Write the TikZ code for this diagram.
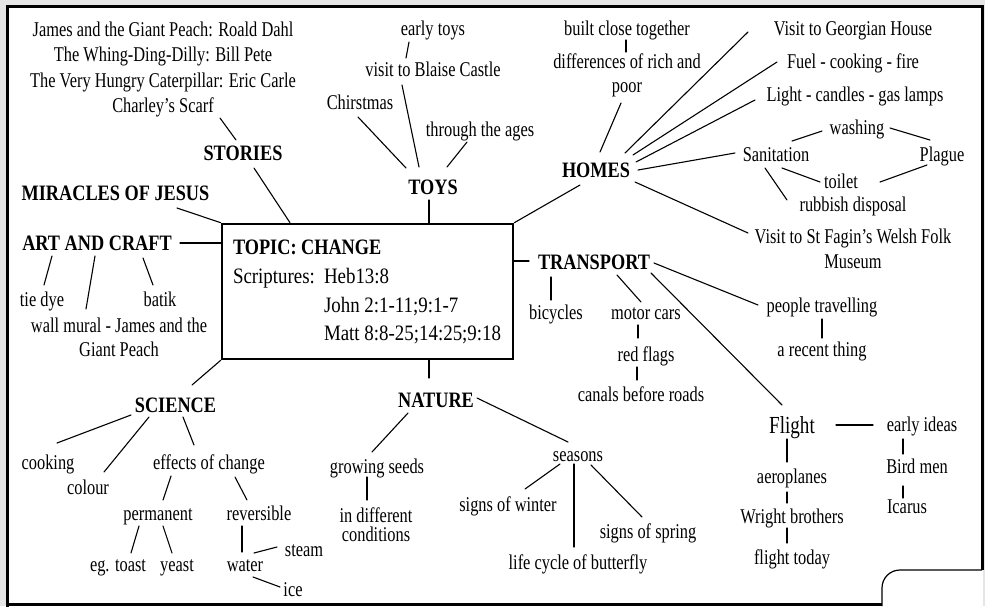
\documentclass[tikz,border=0pt]{standalone}
\usepackage{fontspec}
\newfontfamily\bodyfam[FakeStretch=0.78]{Liberation Serif}
\newfontfamily\headfam[FakeStretch=0.83]{Liberation Serif}
\newfontfamily\boxfam[FakeStretch=0.86]{Liberation Serif}
\newcommand\bodyf{\bodyfam\fontsize{21}{24.5}\selectfont}
\newcommand\headf{\headfam\bfseries\fontsize{22}{26}\selectfont}
\newcommand\boxf{\boxfam\fontsize{22}{26}\selectfont}
\newcommand\flightf{\bodyfam\fontsize{24.5}{28}\selectfont}
\definecolor{bggray}{RGB}{230,230,230}
\newcommand\lnk[4]{\draw[ln] ([shift={#2}]#1.center) -- ([shift={#4}]#3.center);}
\tikzset{
  lbl/.style={inner sep=0pt, outer sep=0pt, font=\bodyf, text height=13.9pt, text depth=0pt, align=center},
  head/.style={inner sep=0pt, outer sep=0pt, font=\headf, text height=14.6pt, text depth=0pt},
  boxtxt/.style={inner sep=0pt, outer sep=0pt, font=\boxf, text height=14.6pt, text depth=0pt},
  ln/.style={line width=1.1pt, line cap=round},
}
\begin{document}
\begin{tikzpicture}[x=1pt, y=-1pt]
\useasboundingbox (0,0) rectangle (985,606);
% frame
\fill[bggray] (0,0) rectangle (985,606);
\fill[white] (7,6) rectangle (983,606);
\draw[line width=3pt] (7,607) -- (7,6) -- (982,6) -- (982,570);
\draw[line width=3pt] (5.5,604.5) -- (882,604.5);
\draw[line width=1.2pt] (982,570) -- (900,570) .. controls (890,570) and (882,578) .. (882,588) -- (882,606);

% central box
\node[draw, line width=2.6pt, minimum width=291pt, minimum height=135pt, inner sep=0pt] (topic) at (367.5,291.5) {};
\node[head, anchor=west] (title) at (233,247) {TOPIC: CHANGE};
\node[boxtxt, anchor=west] (scr) at (233,276) {Scriptures:};
\node[boxtxt, anchor=west] (heb) at (324,276) {Heb13:8};
\node[boxtxt, anchor=west] (john) at (324,305) {John 2:1-11;9:1-7};
\node[boxtxt, anchor=west] (matt) at (324,333) {Matt 8:8-25;14:25;9:18};

% stories
\node[lbl, font={\bodyfam\fontsize{21}{25.5}\selectfont}, text height=90.4pt] (books) at (163,67.5)
  {James and the Giant Peach: Roald Dahl\\The Whing-Ding-Dilly: Bill Pete\\The Very Hungry Caterpillar: Eric Carle\\Charley’s Scarf};
\node[head] (stories) at (243,153) {STORIES};
\node[head] (miracles) at (115.5,193) {MIRACLES OF JESUS};
\node[head] (art) at (97,243) {ART AND CRAFT};
\node[lbl] (tiedye) at (42,300) {tie dye};
\node[lbl] (batik) at (160,300) {batik};
\node[lbl, font={\bodyfam\fontsize{21}{24}\selectfont}, text height=37.9pt] (mural) at (119,338) {wall mural - James and the\\Giant Peach};

% toys
\node[head] (toys) at (433,187) {TOYS};
\node[lbl] (chr) at (360,103) {Chirstmas};
\node[lbl] (blaise) at (433,70) {visit to Blaise Castle};
\node[lbl] (earlytoys) at (433,29) {early toys};
\node[lbl] (ages) at (480,130) {through the ages};

% homes
\node[head] (homes) at (596,170) {HOMES};
\node[lbl] (built) at (627,29) {built close together};
\node[lbl, font={\bodyfam\fontsize{21}{24}\selectfont}, text height=37.9pt] (diff) at (627,74) {differences of rich and\\poor};
\node[lbl] (georg) at (853,29) {Visit to Georgian House};
\node[lbl] (fuel) at (853,62) {Fuel - cooking - fire};
\node[lbl] (light) at (855,95) {Light - candles - gas lamps};
\node[lbl] (sanit) at (776,155) {Sanitation};
\node[lbl] (wash) at (857,128) {washing};
\node[lbl] (plague) at (942,155) {Plague};
\node[lbl] (toilet) at (841,182) {toilet};
\node[lbl] (rubbish) at (853,205) {rubbish disposal};
\node[lbl, font={\bodyfam\fontsize{21}{25}\selectfont}, text height=38.9pt] (fagin) at (853,249.5) {Visit to St Fagin’s Welsh Folk\\Museum};

% transport
\node[head] (transport) at (594,262) {TRANSPORT};
\node[lbl] (bicycles) at (556,313) {bicycles};
\node[lbl] (motor) at (646,313) {motor cars};
\node[lbl] (red) at (646,355) {red flags};
\node[lbl] (canals) at (641,395) {canals before roads};
\node[lbl] (people) at (822,306) {people travelling};
\node[lbl] (recent) at (822,350) {a recent thing};
\node[lbl, font=\flightf, text height=16.2pt] (flight) at (792,425) {Flight};
\node[lbl] (ideas) at (922,425) {early ideas};
\node[lbl] (bird) at (917,467) {Bird men};
\node[lbl] (icarus) at (907,507) {Icarus};
\node[lbl] (aero) at (792,477) {aeroplanes};
\node[lbl] (wright) at (792,517) {Wright brothers};
\node[lbl] (today) at (792,558) {flight today};

% science
\node[head] (science) at (175.5,405) {SCIENCE};
\node[lbl] (cooking) at (48,463) {cooking};
\node[lbl] (colour) at (88,488) {colour};
\node[lbl] (effects) at (209,463) {effects of change};
\node[lbl] (perm) at (158,514) {permanent};
\node[lbl] (rev) at (259,514) {reversible};
\node[lbl] (toast) at (118,565) {eg. toast};
\node[lbl] (yeast) at (177,565) {yeast};
\node[lbl] (water) at (245,565) {water};
\node[lbl] (steam) at (304,550) {steam};
\node[lbl] (ice) at (293,590) {ice};

% nature
\node[head] (nature) at (436,400) {NATURE};
\node[lbl] (seeds) at (377,467) {growing seeds};
\node[lbl, font={\bodyfam\fontsize{21}{19}\selectfont}, text height=32.9pt] (diffc) at (376,525) {in different\\conditions};
\node[lbl] (seasons) at (578,455) {seasons};
\node[lbl] (winter) at (508,505) {signs of winter};
\node[lbl] (life) at (578,563) {life cycle of butterfly};
\node[lbl] (spring) at (648,532) {signs of spring};

% connectors
\lnk{books}{(57,50.5)}{stories}{(-7,-13)}
\draw[ln] ([shift={(11,15)}]stories.center) -- ([shift={(-77.5,0)}]topic.north);
\draw[ln] ([shift={(61.5,15)}]miracles.center) -- (topic.north west);
\draw[ln] ([shift={(83,0)}]art.center) -- ([shift={(0,-48.5)}]topic.west);
\lnk{art}{(-45,13)}{tiedye}{(2,-15)}
\lnk{art}{(-2,13)}{mural}{(-33,-29)}
\lnk{art}{(46,15)}{batik}{(-7,-15)}

\draw[ln] ([shift={(61.5,0)}]topic.north) -- ([shift={(-4,13)}]toys.center);
\lnk{chr}{(-2,14)}{toys}{(-27,-19)}
\lnk{blaise}{(-31,15)}{toys}{(-14,-20)}
\lnk{earlytoys}{(-24,13)}{blaise}{(-27,-12)}
\lnk{ages}{(-13,12)}{toys}{(14,-20)}

\draw[ln] (topic.north east) -- ([shift={(-16,15)}]homes.center);
\lnk{built}{(-1,11)}{diff}{(-1,-22)}
\lnk{diff}{(-6,29)}{homes}{(4,-18)}
\lnk{homes}{(29,-17)}{georg}{(-105,3)}
\lnk{homes}{(37,-15)}{fuel}{(-76,0)}
\lnk{homes}{(40,-8)}{light}{(-100,5)}
\lnk{homes}{(42,0)}{sanit}{(-41,-2)}
\lnk{homes}{(39,12)}{fagin}{(-105,-16.5)}
\lnk{sanit}{(16,-14)}{wash}{(-35,3)}
\lnk{wash}{(33,0)}{plague}{(-12,-15)}
\lnk{sanit}{(6,13)}{toilet}{(-21,0)}
\lnk{toilet}{(39,0)}{plague}{(-15,10)}
\lnk{sanit}{(-11,13)}{rubbish}{(-66,-5)}

\draw[ln] ([shift={(0,-30.5)}]topic.east) -- ([shift={(-65,-1)}]transport.center);
\lnk{transport}{(-43,15)}{bicycles}{(-5,-13)}
\lnk{transport}{(23,13)}{motor}{(-5,-11)}
\lnk{motor}{(-8,12)}{red}{(-8,-17)}
\lnk{red}{(-9,12)}{canals}{(-4,-15)}
\lnk{transport}{(60,1)}{people}{(-64,-1)}
\lnk{people}{(0,13)}{recent}{(0,-12)}
\lnk{transport}{(57,11)}{flight}{(-10,-20)}
\lnk{flight}{(44,0)}{ideas}{(-49,0)}
\lnk{ideas}{(-19,14)}{bird}{(-14,-13)}
\lnk{bird}{(-14,19)}{icarus}{(-4,-9)}
\lnk{flight}{(-5,14)}{aero}{(-5,-15)}
\lnk{aero}{(-5,15)}{wright}{(-5,-14)}
\lnk{wright}{(-5,11)}{today}{(-5,-15)}

\draw[ln] (topic.south west) -- ([shift={(16.5,-20)}]science.center);
\lnk{science}{(-44.5,10)}{cooking}{(9,-20)}
\lnk{science}{(-26.5,12)}{colour}{(16,-16)}
\lnk{science}{(7.5,12)}{effects}{(-15,-18)}
\lnk{effects}{(-38,13)}{perm}{(5,-14)}
\lnk{effects}{(26,14)}{rev}{(-12,-14)}
\lnk{perm}{(-19,12)}{toast}{(13,-12)}
\lnk{perm}{(5,12)}{yeast}{(-5,-12)}
\lnk{rev}{(-17,12)}{water}{(-3,-13)}
\lnk{water}{(9,-12)}{steam}{(-27,-3)}
\lnk{water}{(8,12)}{ice}{(-13,-3)}

\draw[ln] ([shift={(61.5,0)}]topic.south) -- ([shift={(-7,-22)}]nature.center);
\lnk{nature}{(-28,13)}{seeds}{(-5,-15)}
\lnk{seeds}{(-10,10)}{diffc}{(-9,-25)}
\lnk{nature}{(41,-2)}{seasons}{(-10,-13)}
\lnk{seasons}{(-18,9)}{winter}{(17,-16)}
\lnk{seasons}{(-4,9)}{life}{(-4,-16)}
\lnk{seasons}{(13,10)}{spring}{(-6,-15)}
\end{tikzpicture}
\end{document}
